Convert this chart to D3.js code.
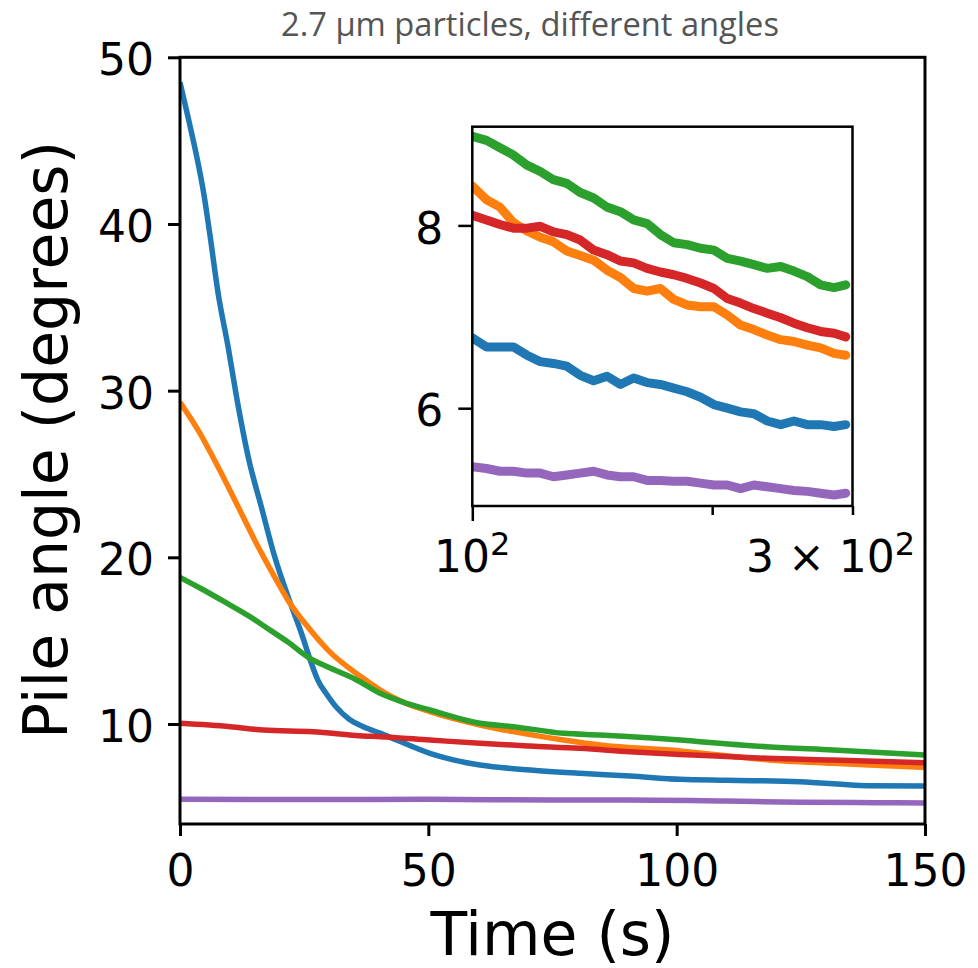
<!DOCTYPE html>
<html>
<head>
<meta charset="utf-8">
<script src="https://cdn.jsdelivr.net/npm/d3@7"></script>
<style>
  body { margin: 0; background: #fff; }
  svg text { font-family: "DejaVu Sans", sans-serif; fill: #000; }
</style>
</head>
<body>
<svg id="chart" width="978" height="968"></svg>
<script>
const seriesColors = ["#1f77b4", "#ff7f0e", "#2ca02c", "#d62728", "#9467bd"];

// main panel, [time (s), pile angle (deg)]
const mainBlue = [[0, 48.5], [1.7, 46.3], [3.4, 44.0], [4.8, 41.8], [6.0, 39.4], [7.7, 35.8], [9.7, 32.6],
  [11.4, 29.6], [13.75, 26.0], [16.4, 23.0], [19.1, 20.0], [21.8, 17.6], [24.5, 15.4], [26.5, 13.6], [27.8, 12.6],
  [29.5, 11.8], [31.5, 11.0], [34, 10.3], [36.9, 9.84], [40.3, 9.45], [43.6, 9.04], [50.3, 8.24], [55, 7.85],
  [60.4, 7.54], [70.5, 7.24], [80.5, 7.04], [90.6, 6.88], [100.7, 6.68], [110, 6.62], [124.8, 6.54],
  [138.3, 6.3], [150, 6.28]];
const mainOrange = [[0, 29.3], [3.7, 27.6], [7.7, 25.4], [11.1, 23.4], [15.1, 21.0], [19.1, 18.8], [21.8, 17.4],
  [25.8, 15.8], [29.9, 14.4], [36.6, 12.8], [40.3, 12.04], [45, 11.3], [50.3, 10.74], [60.4, 9.94], [67.1, 9.54],
  [77.2, 9.04], [84.6, 8.74], [100.7, 8.38], [110, 8.1], [118.1, 7.86], [131.5, 7.64], [140, 7.52], [150, 7.40]];
const mainGreen = [[0, 18.8], [4.4, 18.1], [9.7, 17.2], [13.75, 16.5], [17.8, 15.7], [21.8, 14.9], [25.8, 14.0],
  [29.9, 13.4], [35.2, 12.7], [40.3, 11.84], [45, 11.3], [50.3, 10.84], [60.4, 10.04], [67.1, 9.84], [77.2, 9.44],
  [84.6, 9.34], [100.7, 9.04], [104.7, 8.94], [118.1, 8.64], [131.5, 8.44], [150, 8.14]];
const mainRed = [[0, 10.04], [10.1, 9.84], [16.8, 9.64], [26.8, 9.54], [36.9, 9.28], [40.3, 9.24], [50.3, 9.04],
  [60.4, 8.84], [70.5, 8.68], [80.5, 8.54], [90.6, 8.34], [100.7, 8.17], [110, 8.05], [118.1, 7.94],
  [131.5, 7.84], [150, 7.68]];
const mainPurple = [[0, 5.48], [25, 5.47], [50, 5.48], [75, 5.44], [90, 5.44], [110, 5.38], [125, 5.30],
  [140, 5.28], [150, 5.26]];

// inset, log time axis
const insetTimes = [100, 104.2, 108.3, 112.6, 117.1, 121.7, 126.4, 131.4, 136.6, 142.0, 147.6, 153.4, 159.4,
  165.7, 172.2, 179.0, 186.0, 193.4, 201.0, 208.9, 217.1, 225.6, 234.5, 243.8, 253.3, 263.3, 273.6, 284.4, 294.2];
const insetBlue = [6.77, 6.67, 6.67, 6.67, 6.58, 6.51, 6.49, 6.46, 6.36, 6.30, 6.35, 6.26, 6.33, 6.28, 6.26,
  6.22, 6.18, 6.12, 6.04, 6.00, 5.96, 5.94, 5.86, 5.82, 5.86, 5.82, 5.82, 5.80, 5.82];
const insetOrange = [8.43, 8.28, 8.20, 8.03, 7.94, 7.87, 7.82, 7.72, 7.67, 7.62, 7.51, 7.43, 7.31, 7.28, 7.31,
  7.19, 7.13, 7.11, 7.11, 7.02, 6.91, 6.86, 6.80, 6.75, 6.73, 6.69, 6.66, 6.60, 6.58];
const insetGreen = [8.975, 8.93, 8.85, 8.77, 8.66, 8.59, 8.50, 8.46, 8.36, 8.30, 8.20, 8.15, 8.06, 8.02, 7.90,
  7.81, 7.79, 7.75, 7.73, 7.64, 7.61, 7.57, 7.53, 7.55, 7.50, 7.44, 7.35, 7.32, 7.35];
const insetRed = [8.11, 8.06, 8.01, 7.97, 7.97, 7.99, 7.93, 7.90, 7.84, 7.73, 7.68, 7.61, 7.59, 7.53, 7.49,
  7.46, 7.42, 7.37, 7.31, 7.20, 7.15, 7.09, 7.04, 6.99, 6.93, 6.88, 6.84, 6.82, 6.78];
const insetPurple = [5.36, 5.34, 5.31, 5.31, 5.29, 5.29, 5.25, 5.27, 5.29, 5.31, 5.27, 5.25, 5.25, 5.21, 5.21,
  5.20, 5.20, 5.18, 5.16, 5.16, 5.12, 5.16, 5.14, 5.12, 5.10, 5.09, 5.07, 5.05, 5.07];

const mainXTicks = [0, 50, 100, 150];
const mainYTicks = [10, 20, 30, 40, 50];
const insetYTicks = [6, 8];
const insetMajorTicks = [100];
const insetMinorTicks = [200, 300];
const insetTickLabels = [{ value: 100, base: "10", exp: "2" }, { value: 300, base: "3 \u00d7 10", exp: "2" }];

const titleText = "2.7 \u00b5m particles, different angles";
const xLabel = "Time (s)";
const yLabel = "Pile angle (degrees)";

const svg = d3.select("#chart");

const x = d3.scaleLinear().domain([0, 150]).range([180, 925]);
const y = d3.scaleLinear().domain([4, 50]).range([824, 57.3]);

const ix = d3.scaleLog().domain([100, 300]).range([472.3, 852.5]);
const iy = d3.scaleLinear().domain([4.93, 9.08]).range([506, 126.7]);

const styleAxis = (g, size) => {
  g.attr("font-family", null).attr("font-size", null);
  g.select(".domain").remove();
  g.selectAll(".tick line").attr("stroke", "#000").attr("stroke-width", 3);
  g.selectAll(".tick text").attr("font-size", size).attr("fill", "#000");
};

// title
svg.append("text")
  .attr("x", 530)
  .attr("y", 36)
  .attr("text-anchor", "middle")
  .style("font-family", "'Open Sans', sans-serif")
  .style("fill", "#555")
  .attr("font-size", 33)
  .attr("textLength", 498)
  .attr("lengthAdjust", "spacingAndGlyphs")
  .text(titleText);

// main panel
svg.append("defs").append("clipPath").attr("id", "main-clip")
  .append("rect").attr("x", 180).attr("y", 57.3).attr("width", 745).attr("height", 766.7);

const mainLine = d3.line().curve(d3.curveMonotoneX).x(d => x(d[0])).y(d => y(d[1]));
const mainSeries = [mainBlue, mainOrange, mainGreen, mainRed, mainPurple];

svg.append("g")
  .attr("clip-path", "url(#main-clip)")
  .selectAll("path")
  .data(mainSeries)
  .join("path")
  .attr("d", mainLine)
  .attr("fill", "none")
  .attr("stroke", (d, i) => seriesColors[i])
  .attr("stroke-width", 5.5)
  .attr("stroke-linejoin", "round");

svg.append("g")
  .attr("transform", "translate(0,824)")
  .call(d3.axisBottom(x).tickValues(mainXTicks).tickSize(12).tickPadding(19).tickSizeOuter(0))
  .call(g => styleAxis(g, 44));

svg.append("g")
  .attr("transform", "translate(180,0)")
  .call(d3.axisLeft(y).tickValues(mainYTicks).tickSize(12).tickPadding(14).tickSizeOuter(0))
  .call(g => styleAxis(g, 44))
  .call(g => g.selectAll(".tick text").attr("dy", "0.4em"));

svg.append("rect")
  .attr("x", 180).attr("y", 57.3).attr("width", 745).attr("height", 766.7)
  .attr("fill", "none").attr("stroke", "#000").attr("stroke-width", 3);

svg.append("text")
  .attr("x", 552.5)
  .attr("y", 955)
  .attr("text-anchor", "middle")
  .attr("font-size", 60)
  .text(xLabel);

svg.append("text")
  .attr("transform", "translate(67,440) rotate(-90)")
  .attr("text-anchor", "middle")
  .attr("font-size", 60)
  .text(yLabel);

// inset
svg.append("rect")
  .attr("x", 472.3).attr("y", 126.7).attr("width", 380.2).attr("height", 379.3)
  .attr("fill", "#fff");

svg.select("defs").append("clipPath").attr("id", "inset-clip")
  .append("rect").attr("x", 472.3).attr("y", 126.7).attr("width", 380.2).attr("height", 379.3);

const insetLine = d3.line().x((d, i) => ix(insetTimes[i])).y(d => iy(d));
const insetSeries = [insetBlue, insetOrange, insetGreen, insetRed, insetPurple];

svg.append("g")
  .attr("clip-path", "url(#inset-clip)")
  .selectAll("path")
  .data(insetSeries)
  .join("path")
  .attr("d", insetLine)
  .attr("fill", "none")
  .attr("stroke", (d, i) => seriesColors[i])
  .attr("stroke-width", 9)
  .attr("stroke-linejoin", "round")
  .attr("stroke-linecap", "round");

svg.append("g")
  .attr("transform", "translate(472.3,0)")
  .call(d3.axisLeft(iy).tickValues(insetYTicks).tickFormat(d3.format("d")).tickSize(14).tickPadding(15).tickSizeOuter(0))
  .call(g => styleAxis(g, 44))
  .call(g => g.selectAll(".tick line").attr("stroke-width", 2.5))
  .call(g => g.selectAll(".tick text").attr("dy", "0.4em"));

svg.append("g")
  .attr("transform", "translate(0,506)")
  .call(d3.axisBottom(ix).tickValues(insetMajorTicks).tickSize(15).tickFormat(""))
  .call(g => styleAxis(g, 44))
  .call(g => g.selectAll(".tick line").attr("stroke-width", 2.5));

svg.append("g")
  .attr("transform", "translate(0,506)")
  .call(d3.axisBottom(ix).tickValues(insetMinorTicks).tickSize(9).tickFormat(""))
  .call(g => styleAxis(g, 44))
  .call(g => g.selectAll(".tick line").attr("stroke-width", 2.5));

// the wide "3 x 10^2" label sits a little left of its tick, as in the source figure
const labelShift = v => (v > 100 ? -22 : 0);

const insetLabels = svg.append("g")
  .selectAll("text")
  .data(insetTickLabels)
  .join("text")
  .attr("x", d => ix(d.value) + labelShift(d.value))
  .attr("y", 571.7)
  .attr("text-anchor", "middle")
  .attr("font-size", 44);
insetLabels.append("tspan").text(d => d.base);
insetLabels.append("tspan").attr("dy", -17).attr("font-size", 32).text(d => d.exp);

svg.append("rect")
  .attr("x", 472.3).attr("y", 126.7).attr("width", 380.2).attr("height", 379.3)
  .attr("fill", "none").attr("stroke", "#000").attr("stroke-width", 2.5);
</script>
</body>
</html>
